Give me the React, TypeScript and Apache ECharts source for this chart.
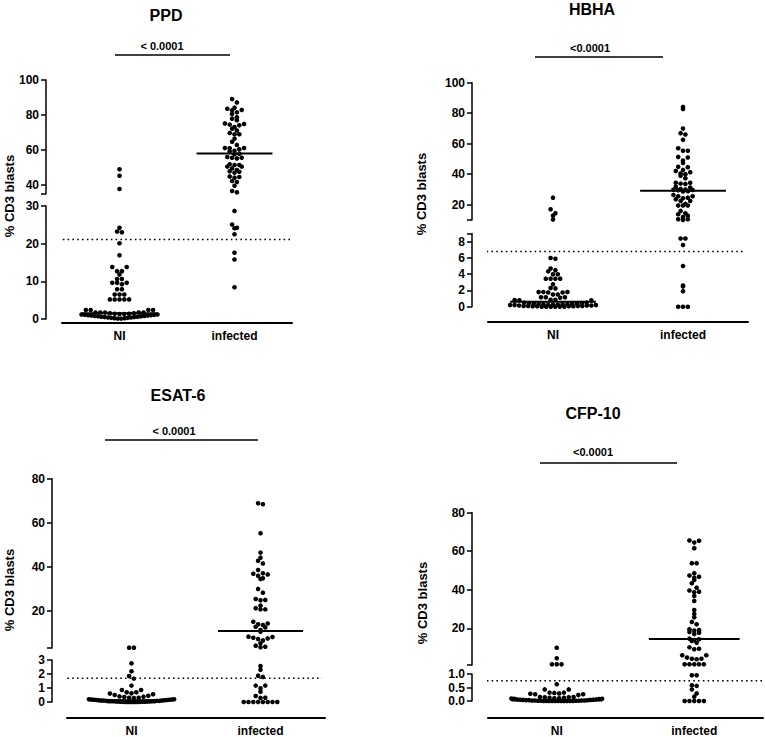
import React, { useEffect, useRef } from "react";
import * as echarts from "echarts";

const GROUPS = ["NI", "infected"];
const TITLES = ["PPD", "HBHA", "ESAT-6", "CFP-10"];
const P_VALUES = ["< 0.0001", "<0.0001", "< 0.0001", "<0.0001"];
const Y_LABEL = "% CD3 blasts";

// ---------- PPD ----------
const PPD_NI = [
  49.0, 45.3, 37.7,
  24.2, 23.2, 23.0, 20.1, 16.9, 13.8, 13.8, 12.7, 12.7, 11.8, 10.6, 10.6, 9.6, 9.6, 9.6, 9.2,
  7.9, 7.9, 6.5, 6.5, 6.5, 5.2, 5.2, 5.2, 5.2, 5.2, 2.4, 2.4, 2.4, 2.4, 1.7, 1.7, 1.7, 1.7, 1.7,
  1.5, 1.5, 1.4, 1.4, 1.3, 1.3, 1.2, 1.2, 1.1, 1.1, 1.0, 1.0, 0.9, 0.9, 0.8, 0.8, 0.7, 0.7,
  0.6, 0.6, 0.5, 0.5, 0.4, 0.4, 0.3, 0.3, 0.2, 0.2, 0.1, 0.1,
];
const PPD_INF = [
  89.1, 87.2, 84.2, 83.6, 82.9, 82.7, 81.5, 80.6, 78.7, 77.9, 77.0, 75.2, 74.9, 74.5, 74.1, 73.1,
  72.2, 71.2, 69.7, 69.0, 69.0, 66.5, 64.7, 62.9, 61.1, 61.1, 61.0, 60.4, 59.6, 59.1, 57.9, 57.6,
  56.0, 55.6, 55.6, 55.2, 51.8, 51.4, 51.4, 50.5, 50.5, 49.5, 48.6, 47.8, 47.6, 47.0, 44.8, 44.6,
  44.2, 42.3, 41.7, 39.6, 36.6, 35.8, 28.7, 25.1, 24.2, 24.1, 22.5, 17.6, 15.8, 8.4,
];
const PPD_MEDIANS = [1.5, 58];
const PPD_CUTOFF = 21.1;
const PPD_UPPER_RANGE = [35, 100];
const PPD_LOWER_RANGE = [0, 30];
const PPD_UPPER_TICKS = [35, 40, 60, 80, 100];
const PPD_UPPER_LABELS = [40, 60, 80, 100];
const PPD_LOWER_TICKS = [0, 10, 20, 30];
const PPD_LOWER_LABELS = [0, 10, 20, 30];

// ---------- HBHA ----------
const HBHA_NI = [
  24.6, 17.0, 14.4, 12.8, 10.2,
  6.0, 5.9, 4.7, 4.5, 4.35, 4.0, 4.0, 3.45, 3.45, 3.45, 3.45, 2.75, 2.3, 2.25, 1.8, 1.8, 1.75,
  1.8, 1.75, 1.5, 1.5, 1.15, 1.15, 1.1, 1.15, 0.85, 0.8, 0.82, 0.8, 0.85,
  0.5, 0.5, 0.45, 0.45, 0.4, 0.4, 0.35, 0.35, 0.3, 0.3, 0.3, 0.25, 0.25, 0.25, 0.2, 0.2, 0.2,
  0.15, 0.15, 0.15, 0.1, 0.1, 0.1, 0.1, 0.05, 0.05, 0.05, 0.05, 0, 0, 0, 0, 0, 0,
];
const HBHA_INF = [
  84.1, 82.8, 69.9, 66.9, 66.0, 62.5, 57.0, 55.3, 55.3, 51.3, 50.9, 48.9, 47.4, 44.8, 44.6, 42.8,
  42.1, 41.3, 40.4, 40.0, 39.0, 37.3, 34.4, 34.4, 33.8, 33.6, 31.8, 31.2, 30.2, 29.9, 29.8, 29.6,
  29.4, 28.8, 28.6, 26.4, 25.5, 25.5, 24.6, 24.2, 23.5, 22.4, 22.4, 20.5, 19.4, 19.4, 19.4, 15.9,
  14.3, 13.7, 12.8, 11.9, 10.4, 10.4, 10.0, 8.4, 8.4, 7.6, 5.0, 2.6, 2.5, 1.9, 0, 0, 0,
];
const HBHA_MEDIANS = [0.6, 29.2];
const HBHA_CUTOFF = 6.8;
const HBHA_UPPER_RANGE = [10, 100];
const HBHA_LOWER_RANGE = [0, 9];
const HBHA_UPPER_TICKS = [10, 20, 40, 60, 80, 100];
const HBHA_UPPER_LABELS = [20, 40, 60, 80, 100];
const HBHA_LOWER_TICKS = [0, 2, 4, 6, 8, 9];
const HBHA_LOWER_LABELS = [0, 2, 4, 6, 8];

// ---------- ESAT-6 ----------
const ESAT_NI = [
  3.2, 3.2,
  2.76, 2.19, 1.86, 1.67, 1.17, 0.86, 0.86, 0.69, 0.69, 0.62, 0.6, 0.55, 0.5, 0.45, 0.4, 0.38,
  0.35, 0.3, 0.3, 0.28,
  0.2, 0.2, 0.18, 0.18, 0.16, 0.16, 0.14, 0.14, 0.12, 0.12, 0.1, 0.1, 0.1, 0.08, 0.08, 0.08,
  0.06, 0.06, 0.06, 0.05, 0.05, 0.04, 0.04, 0.03, 0.03, 0.02, 0.02, 0.02, 0.01, 0.01,
  0, 0, 0, 0, 0, 0,
];
const ESAT_INF = [
  68.8, 68.4, 55.2, 46.4, 44.1, 42.7, 41.5, 38.5, 37.0, 36.8, 36.5, 35.9, 34.7, 34.4, 29.9, 28.2,
  25.3, 24.9, 24.7, 22.3, 21.1, 20.6, 20.6, 15.0, 14.2, 13.8, 13.5, 12.7, 12.4, 11.2, 10.4, 8.2,
  8.0, 7.7, 7.4, 7.1, 6.5, 5.2, 4.1, 3.6, 3.4, 2.57, 2.31, 1.88, 1.79, 1.17, 1.17, 0.98, 0.74,
  0.43, 0.31, 0.29, 0, 0, 0, 0, 0, 0, 0, 0,
];
const ESAT_MEDIANS = [0.12, 10.8];
const ESAT_CUTOFF = 1.7;
const ESAT_UPPER_RANGE = [3, 80];
const ESAT_LOWER_RANGE = [0, 3];
const ESAT_UPPER_TICKS = [3, 20, 40, 60, 80];
const ESAT_UPPER_LABELS = [20, 40, 60, 80];
const ESAT_LOWER_TICKS = [0, 1, 2, 3];
const ESAT_LOWER_LABELS = [0, 1, 2, 3];

// ---------- CFP-10 ----------
const CFP_NI = [
  9.9, 4.4, 1.3, 1.3, 1.3,
  0.62, 0.43, 0.43, 0.31, 0.28, 0.25, 0.22, 0.25, 0.27, 0.3, 0.31,
  0.15, 0.15, 0.14, 0.14, 0.12, 0.12, 0.1, 0.1, 0.09, 0.08, 0.08, 0.07, 0.06, 0.06, 0.05, 0.05,
  0.04, 0.04, 0.03, 0.03, 0.03, 0.02, 0.02, 0.02, 0.02, 0.01, 0.01, 0.01, 0.01,
  0, 0, 0, 0, 0, 0, 0, 0, 0, 0, 0,
];
const CFP_INF = [
  65.6, 65.4, 64.5, 61.6, 53.8, 53.8, 48.6, 47.4, 46.8, 46.3, 45.1, 43.4, 41.1, 39.6, 39.0, 38.7,
  36.8, 34.2, 29.5, 27.4, 25.7, 23.3, 22.1, 19.5, 19.1, 18.8, 18.1, 17.7, 17.0, 14.6, 14.3, 13.9,
  13.4, 12.5, 10.1, 9.4, 9.1, 6.0, 6.0, 4.8, 4.2, 4.2, 3.9, 1.3, 1.3, 1.3, 1.3, 1.3, 0.95, 0.95,
  0.58, 0.56, 0.43, 0.28, 0.16, 0, 0, 0, 0, 0,
];
const CFP_MEDIANS = [0.02, 14.4];
const CFP_CUTOFF = 0.75;
const CFP_UPPER_RANGE = [1, 80];
const CFP_LOWER_RANGE = [0, 1];
const CFP_UPPER_TICKS = [1, 20, 40, 60, 80];
const CFP_UPPER_LABELS = [20, 40, 60, 80];
const CFP_LOWER_TICKS = [0, 0.5, 1];
const CFP_LOWER_LABELS = [0, 0.5, 1];

// ---------- panels (data + layout) ----------
const FONT = '"Liberation Sans", Arial, Helvetica, sans-serif';

const PANELS = [
  {
    groups: [PPD_NI, PPD_INF], medians: PPD_MEDIANS, cutoff: PPD_CUTOFF,
    upRange: PPD_UPPER_RANGE, loRange: PPD_LOWER_RANGE,
    upTicks: PPD_UPPER_TICKS, upLabels: PPD_UPPER_LABELS, loTicks: PPD_LOWER_TICKS, loLabels: PPD_LOWER_LABELS,
    loDecimals: 0,
    L: { axisX: 46, left: 62, right: 292, upTop: 80, upBottom: 193.75, loTop: 206, loBottom: 319, xAxisY: 323,
      title: [166, 15], p: [162, 46], bar: [115, 230, 55], ylab: [9, 196], cut: [58, 292] },
  },
  {
    groups: [HBHA_NI, HBHA_INF], medians: HBHA_MEDIANS, cutoff: HBHA_CUTOFF,
    upRange: HBHA_UPPER_RANGE, loRange: HBHA_LOWER_RANGE,
    upTicks: HBHA_UPPER_TICKS, upLabels: HBHA_UPPER_LABELS, loTicks: HBHA_LOWER_TICKS, loLabels: HBHA_LOWER_LABELS,
    loDecimals: 0,
    L: { axisX: 472, left: 488, right: 748, upTop: 82.7, upBottom: 219.9, loTop: 233.6, loBottom: 306.7, xAxisY: 322,
      title: [592, 9], p: [590, 48], bar: [535, 663, 57], ylab: [421, 194], cut: [453, 743] },
  },
  {
    groups: [ESAT_NI, ESAT_INF], medians: ESAT_MEDIANS, cutoff: ESAT_CUTOFF,
    upRange: ESAT_UPPER_RANGE, loRange: ESAT_LOWER_RANGE,
    upTicks: ESAT_UPPER_TICKS, upLabels: ESAT_UPPER_LABELS, loTicks: ESAT_LOWER_TICKS, loLabels: ESAT_LOWER_LABELS,
    loDecimals: 0,
    L: { axisX: 52, left: 67, right: 325, upTop: 478.7, upBottom: 648.1, loTop: 660, loBottom: 702, xAxisY: 718,
      title: [178, 395.5], p: [174, 431], bar: [105, 258, 440], ylab: [9, 590], cut: [53, 322] },
  },
  {
    groups: [CFP_NI, CFP_INF], medians: CFP_MEDIANS, cutoff: CFP_CUTOFF,
    upRange: CFP_UPPER_RANGE, loRange: CFP_LOWER_RANGE,
    upTicks: CFP_UPPER_TICKS, upLabels: CFP_UPPER_LABELS, loTicks: CFP_LOWER_TICKS, loLabels: CFP_LOWER_LABELS,
    loDecimals: 1,
    L: { axisX: 472, left: 488, right: 763, upTop: 512.7, upBottom: 664.9, loTop: 674, loBottom: 701, xAxisY: 718,
      title: [593, 413.5], p: [593, 452], bar: [540, 677, 463], ylab: [422, 603], cut: [458, 762] },
  },
];

const DOT = 4.6;
const SPACING = 4.8;
const MEDIAN_HALF = 0.33;

function swarmOffsets(values: number[], toPx: (v: number) => number, d: number, maxW: number): number[] {
  const out = new Array(values.length).fill(0);
  const rows = new Map<number, number[]>();
  values.forEach((v, i) => {
    const r = Math.round(toPx(v) / d);
    if (!rows.has(r)) rows.set(r, []);
    rows.get(r)!.push(i);
  });
  rows.forEach((idx) => {
    idx.sort((a, b) => values[a] - values[b]);
    const n = idx.length;
    const s = n > 1 ? Math.min(d, maxW / (n - 1)) : 0;
    const slots: number[] = [];
    for (let j = 0; j < n; j++) slots.push((j - (n - 1) / 2) * s);
    slots.sort((a, b) => Math.abs(a) - Math.abs(b) || b - a);
    idx.forEach((k, j) => (out[k] = slots[j]));
  });
  return out;
}

function buildOption() {
  const grid: any[] = [];
  const xAxis: any[] = [];
  const yAxis: any[] = [];
  const series: any[] = [];
  const graphic: any[] = [];
  const tickFont = { fontFamily: FONT, fontWeight: "bold", fontSize: 12, color: "#000" };

  PANELS.forEach((P, i) => {
    const L = P.L;
    const width = L.right - L.left;
    const catW = width / 2;
    const segs = [
      { min: P.upRange[0], max: P.upRange[1], top: L.upTop, bottom: L.upBottom, ticks: P.upTicks, labels: P.upLabels, dec: 0 },
      { min: P.loRange[0], max: P.loRange[1], top: L.loTop, bottom: L.loBottom, ticks: P.loTicks, labels: P.loLabels, dec: P.loDecimals },
    ];
    const toPx = (v: number) => {
      const s = v > P.loRange[1] ? segs[0] : segs[1];
      return s.bottom - ((v - s.min) / (s.max - s.min)) * (s.bottom - s.top);
    };
    const segIndex = (v: number) => (v > P.loRange[1] ? 0 : 1);

    segs.forEach((s, k) => {
      const gi = i * 2 + k;
      grid.push({
        left: L.left, top: s.top, width, height: s.bottom - s.top,
        containLabel: false, outerBoundsMode: "none",
      });
      const isLower = k === 1;
      xAxis.push({
        type: "value", gridIndex: gi, min: -0.5, max: 1.5, interval: 0.5,
        show: isLower, position: "bottom", offset: isLower ? L.xAxisY - s.bottom : 0,
        axisLine: { show: true, onZero: false, lineStyle: { color: "#000", width: 2 } },
        axisTick: { show: false }, splitLine: { show: false },
        axisLabel: {
          show: isLower, customValues: [0, 1], margin: 7, ...tickFont,
          formatter: (v: number) => (Math.abs(v - Math.round(v)) < 1e-6 && v >= 0 && v <= 1 ? GROUPS[Math.round(v)] : ""),
        },
      });
      yAxis.push({
        type: "value", gridIndex: gi, min: s.min, max: s.max, position: "left",
        offset: L.left - L.axisX,
        axisLine: { show: true, onZero: false, lineStyle: { color: "#000", width: 1.5 } },
        axisTick: { show: true, customValues: s.ticks, length: 5, lineStyle: { color: "#000", width: 1.5 } },
        axisLabel: {
          customValues: s.labels, margin: 7, ...tickFont,
          formatter: (v: number) => v.toFixed(s.dec),
        },
        splitLine: { show: false },
      });
    });

    // dots
    const segData: number[][][] = [[], []];
    P.groups.forEach((vals, g) => {
      const offs = swarmOffsets(vals, toPx, SPACING, 2 * MEDIAN_HALF * catW);
      vals.forEach((v, j) => {
        segData[segIndex(v)].push([g + offs[j] / catW, v]);
      });
    });
    segData.forEach((data, k) => {
      series.push({
        type: "scatter", xAxisIndex: i * 2 + k, yAxisIndex: i * 2 + k, data,
        symbol: "circle", symbolSize: DOT, itemStyle: { color: "#000", opacity: 1 }, silent: true, z: 3,
      });
    });

    // medians
    P.medians.forEach((m, g) => {
      const k = segIndex(m);
      series.push({
        type: "line", xAxisIndex: i * 2 + k, yAxisIndex: i * 2 + k,
        data: [[g - MEDIAN_HALF, m], [g + MEDIAN_HALF, m]],
        symbol: "none", lineStyle: { color: "#000", width: 2 }, silent: true, z: 5, clip: false,
      });
    });

    // cutoff (dotted)
    const xs = -0.5 + (L.cut[0] - L.left) / catW;
    const xe = -0.5 + (L.cut[1] - L.left) / catW;
    const ck = segIndex(P.cutoff);
    series.push({
      type: "line", xAxisIndex: i * 2 + ck, yAxisIndex: i * 2 + ck,
      data: [[xs, P.cutoff], [xe, P.cutoff]],
      symbol: "none", lineStyle: { color: "#000", width: 1.4, type: [1.6, 3.2] }, silent: true, z: 2, clip: false,
    });

    // texts
    graphic.push({
      type: "text", x: L.title[0], y: L.title[1],
      style: { text: TITLES[i], font: `bold 16px ${FONT}`, fill: "#000", align: "center", verticalAlign: "middle", textAlign: "center", textVerticalAlign: "middle" },
    });
    graphic.push({
      type: "text", x: L.p[0], y: L.p[1],
      style: { text: P_VALUES[i], font: `bold 11px ${FONT}`, fill: "#000", align: "center", verticalAlign: "middle", textAlign: "center", textVerticalAlign: "middle" },
    });
    graphic.push({
      type: "line", shape: { x1: L.bar[0], y1: L.bar[2], x2: L.bar[1], y2: L.bar[2] },
      style: { stroke: "#000", lineWidth: 1.6 },
    });
    graphic.push({
      type: "text", x: L.ylab[0], y: L.ylab[1], rotation: Math.PI / 2,
      style: { text: Y_LABEL, font: `bold 13px ${FONT}`, fill: "#000", align: "center", verticalAlign: "middle", textAlign: "center", textVerticalAlign: "middle" },
    });
  });

  return {
    animation: false,
    backgroundColor: "#fff",
    grid, xAxis, yAxis, series, graphic,
  };
}

export default function App() {
  const ref = useRef<HTMLDivElement>(null);
  useEffect(() => {
    document.body.style.margin = "0";
    if (!ref.current) return;
    const chart = echarts.init(ref.current, undefined, { renderer: "svg" });
    chart.setOption(buildOption() as any);
    return () => chart.dispose();
  }, []);
  return <div ref={ref} style={{ width: 765, height: 737 }} />;
}
